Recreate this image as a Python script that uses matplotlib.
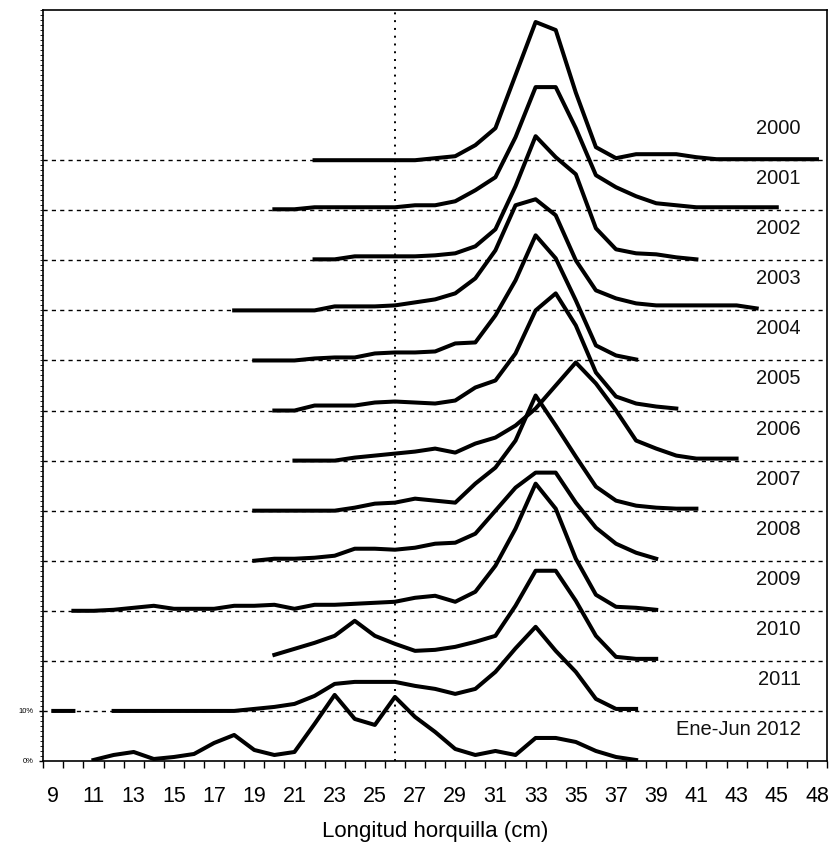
import matplotlib
matplotlib.use('Agg')
import matplotlib.pyplot as plt
import numpy as np

plt.rcParams['font.family'] = ['Liberation Sans', 'DejaVu Sans']

# length classes (cm); 47 is not a class, the last one is 48
lengths = list(range(9, 47)) + [48]
tick_labels = [str(v) for v in lengths[::2]]

series_names = ['2000', '2001', '2002', '2003', '2004', '2005', '2006',
                '2007', '2008', '2009', '2010', '2011', 'Ene-Jun 2012']
series_offsets = [120, 110, 100, 90, 80, 70, 60, 50, 40, 30, 20, 10, 0]
series_starts = [22, 20, 22, 18, 19, 20, 21, 19, 19, 10, 20, 9, 11]

# percentage by length class, from the start length onwards
v2000 = [0, 0, 0, 0, 0, 0, 0.4, 0.8, 3.0, 6.4, 17.0, 27.6, 26.0, 13.5, 2.6,
         0.4, 1.2, 1.2, 1.2, 0.6, 0.2, 0.2, 0.2, 0.2, 0.2, 0.2]
v2001 = [0.2, 0.2, 0.6, 0.6, 0.6, 0.6, 0.6, 1.0, 1.0, 1.8, 4.0, 6.6, 14.6,
         24.6, 24.6, 16.4, 7.0, 4.6, 2.8, 1.4, 1.0, 0.6, 0.6, 0.6, 0.6, 0.6]
v2002 = [0.2, 0.2, 0.8, 0.8, 0.8, 0.8, 1.0, 1.4, 2.8, 6.2, 14.8, 24.8, 20.6,
         17.2, 6.4, 2.2, 1.4, 1.2, 0.6, 0.2]
v2003 = [0, 0, 0, 0, 0, 0.8, 0.8, 0.8, 1.0, 1.6, 2.2, 3.4, 6.4, 12.0, 21.0,
         22.2, 19.0, 10.0, 4.0, 2.4, 1.4, 1.0, 1.0, 1.0, 1.0, 1.0, 0.4]
v2004 = [0, 0, 0, 0.4, 0.6, 0.6, 1.4, 1.6, 1.6, 1.8, 3.4, 3.6, 9.0, 16.0,
         25.0, 20.4, 12.0, 3.0, 1.0, 0.2]
v2005 = [0, 0, 1.0, 1.0, 1.0, 1.6, 1.8, 1.6, 1.4, 2.0, 4.6, 6.0, 11.4, 20.0,
         23.4, 17.0, 7.6, 2.8, 1.4, 0.8, 0.4]
v2006 = [0, 0, 0, 0.6, 1.0, 1.4, 1.8, 2.4, 1.6, 3.4, 4.6, 7.0, 10.4, 15.0,
         19.6, 15.4, 10.0, 4.0, 2.4, 1.0, 0.4, 0.4, 0.4]
v2007 = [0, 0, 0, 0, 0, 0.6, 1.4, 1.6, 2.4, 2.0, 1.6, 5.4, 8.6, 14.0, 23.0,
         17.0, 10.8, 4.8, 2.0, 1.0, 0.6, 0.4, 0.4]
v2008 = [0, 0.4, 0.4, 0.6, 1.0, 2.4, 2.4, 2.2, 2.6, 3.4, 3.6, 5.4, 10.0, 14.6,
         17.6, 17.6, 11.6, 6.6, 3.4, 1.6, 0.4]
v2009 = [0, 0, 0.2, 0.6, 1.0, 0.4, 0.4, 0.4, 1.0, 1.0, 1.2, 0.4, 1.2, 1.2,
         1.4, 1.6, 1.8, 2.6, 3.0, 1.8, 3.8, 9.0, 16.4, 25.4, 20.4, 10.4, 3.2,
         0.8, 0.6, 0.2]
v2010 = [1.2, 2.4, 3.6, 5.0, 8.0, 5.0, 3.4, 2.0, 2.2, 2.8, 3.8, 5.0, 11.0,
         18.0, 18.0, 12.0, 5.0, 0.8, 0.4, 0.4]
v2011 = [0, 0, np.nan, 0, 0, 0, 0, 0, 0, 0, 0.4, 0.8, 1.4, 3.0, 5.4, 5.8, 5.8,
         5.8, 5.0, 4.4, 3.4, 4.4, 7.8, 12.5, 16.8, 12.0, 7.8, 2.4, 0.4, 0.4]
v2012 = [0.2, 1.2, 1.8, 0.4, 0.8, 1.4, 3.6, 5.2, 2.2, 1.2, 1.8, 7.4, 13.2,
         8.4, 7.2, 12.8, 8.8, 5.8, 2.4, 1.2, 2.0, 1.2, 4.6, 4.6, 3.8, 2.0,
         0.8, 0.2]

all_values = [v2000, v2001, v2002, v2003, v2004, v2005, v2006,
              v2007, v2008, v2009, v2010, v2011, v2012]

fig = plt.figure(figsize=(8.32, 8.48), dpi=100)
ax = fig.add_axes([0.052, 0.1026, 0.942, 0.8856])

# dashed guide lines at each baseline
for off in series_offsets[:-1]:
    ax.axhline(off, color='black', lw=1.0, linestyle=(0, (3, 3)), zorder=1)

# dotted reference line at 26 cm
ax.axvline(lengths.index(26), color='black', lw=1.4,
           linestyle=(0, (1, 3)), zorder=1)

for name, off, start, vals in zip(series_names, series_offsets,
                                  series_starts, all_values):
    i0 = lengths.index(start)
    x = np.arange(i0, i0 + len(vals))
    y = np.array(vals, dtype=float) + off
    ax.plot(x, y, color='black', lw=2.9, zorder=3)
    ax.text(37.2, off + 6.3, name, ha='right', va='center', fontsize=14.5,
            color='#111111')

ax.set_xlim(-0.5, len(lengths) - 0.5)
ax.set_ylim(0, 150)

ax.set_xticks(np.arange(0, len(lengths), 2))
ax.set_xticklabels(tick_labels, fontsize=15.5)
ax.set_xticks(np.arange(-0.5, len(lengths), 1), minor=True)
ax.tick_params(axis='x', which='major', length=0, pad=18)
ax.tick_params(axis='x', which='minor', length=5, width=1, direction='out')

ax.set_yticks([0, 10])
ax.set_yticklabels(['0%', '10%'], fontsize=5.5)
ax.set_yticks(np.arange(0, 151, 1), minor=True)
ax.tick_params(axis='y', which='major', length=3, width=1, pad=4)
ax.tick_params(axis='y', which='minor', length=2, width=0.6)

for s in ax.spines.values():
    s.set_color('black')
    s.set_linewidth(1.2)

ax.set_xlabel('Longitud horquilla (cm)', fontsize=16, labelpad=10)

fig.savefig('out.png', dpi=100)
